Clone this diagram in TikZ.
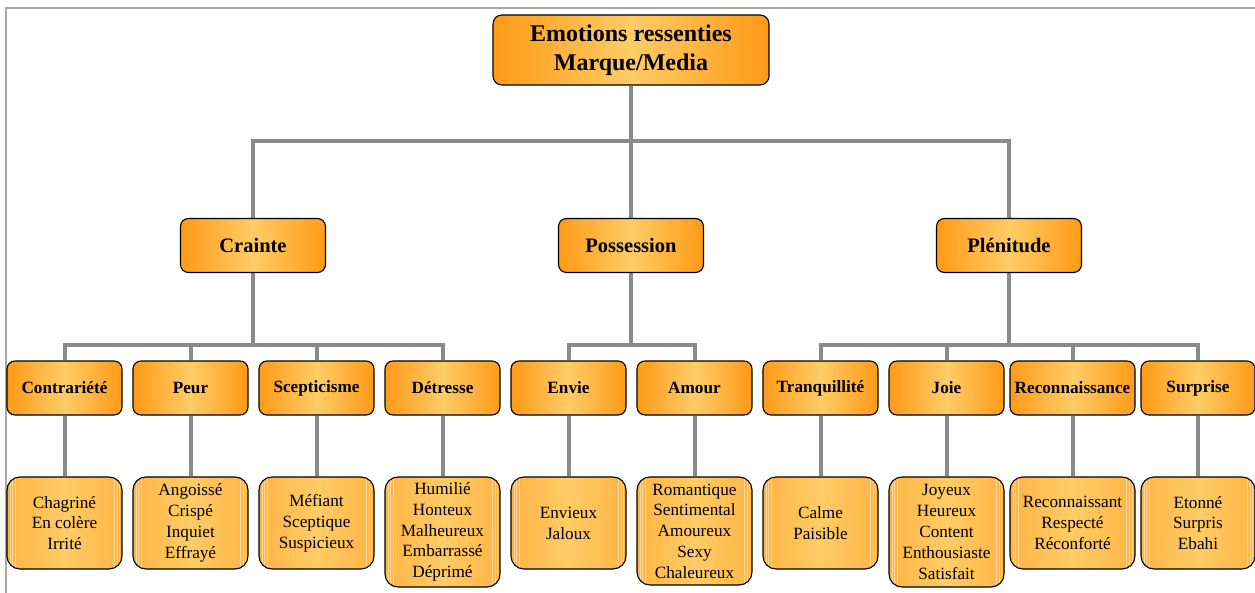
\documentclass[tikz,border=0pt]{standalone}
\usepackage{fontspec}
\setmainfont{Liberation Serif}
\usetikzlibrary{backgrounds,calc}
\definecolor{edgeor}{HTML}{FF9A18}
\definecolor{midor}{HTML}{FFCC66}
\definecolor{edgelt}{HTML}{FFB445}
\definecolor{conngray}{HTML}{8A8A8A}
\definecolor{framegray}{HTML}{A8A8A8}
\tikzset{
  basebox/.style={draw=black, line width=1.1pt, align=center, inner sep=0pt, text=black},
  topbox/.style={basebox, rounded corners=9pt, left color=edgeor, right color=edgeor, middle color=midor,
    font=\bfseries\fontsize{24}{29.5}\selectfont, minimum width=276pt, minimum height=70pt},
  catbox/.style={basebox, rounded corners=8pt, left color=edgeor, right color=edgeor, middle color=midor,
    font=\bfseries\fontsize{20.5}{24}\selectfont, minimum width=145pt, minimum height=54pt},
  subbox/.style={basebox, rounded corners=8pt, left color=edgeor, right color=edgeor, middle color=midor,
    font=\bfseries\fontsize{17.2}{20.6}\selectfont, minimum width=115pt, minimum height=54pt},
  leafbox/.style={basebox, rounded corners=13pt, left color=edgelt, right color=edgelt, middle color=midor,
    font=\fontsize{17.2}{20.8}\selectfont, minimum width=115pt, minimum height=92pt,
    path picture={\foreach \f in {0.025,0.045,0.07,0.93,0.955,0.975}
      \draw[white, opacity=0.45, line width=0.6pt]
        ($(path picture bounding box.north west)!\f!(path picture bounding box.north east)$) --
        ($(path picture bounding box.south west)!\f!(path picture bounding box.south east)$);}},
  tallleaf/.style={leafbox, minimum height=110pt},
  conn/.style={draw=conngray, line width=4pt},
  framel/.style={draw=framegray, line width=1.6pt}
}
\begin{document}
\begin{tikzpicture}[x=1pt,y=-1pt]
\useasboundingbox (0,0) rectangle (1255,593);
% frame
\coordinate (fbl) at (6,593);
\coordinate (ftl) at (6,8);
\coordinate (ftr) at (1255,8);
\draw[framel] (fbl) -- (ftl) -- (ftr);

% level 1
\node[topbox] (top) at (631,50) {Emotions ressenties\\Marque/Media};

% level 2
\node[catbox] (crainte) at (253,245.5) {Crainte};
\node[catbox] (possession) at (631,245.5) {Possession};
\node[catbox] (plenitude) at (1009,245.5) {Plénitude};

% level 3
\node[subbox] (contrariete) at (64.5,388) {Contrariété};
\node[subbox] (peur) at (190.5,388) {Peur};
\node[subbox] (scepticisme) at (316.5,388) {Scepticisme};
\node[subbox] (detresse) at (442.5,388) {Détresse};
\node[subbox] (envie) at (568.5,388) {Envie};
\node[subbox] (amour) at (694.5,388) {Amour};
\node[subbox] (tranquillite) at (820.5,388) {Tranquillité};
\node[subbox] (joie) at (946.5,388) {Joie};
\node[subbox, minimum width=125pt] (reconnaissance) at (1072.5,388) {Reconnaissance};
\node[subbox, minimum width=114pt] (surprise) at (1198,388) {Surprise};

% level 4
\node[leafbox] (l1) at (64.5,523) {Chagriné\\En colère\\Irrité};
\node[leafbox] (l2) at (190.5,523) {Angoissé\\Crispé\\Inquiet\\Effrayé};
\node[leafbox] (l3) at (316.5,523) {Méfiant\\Sceptique\\Suspicieux};
\node[tallleaf] (l4) at (442.5,532) {Humilié\\Honteux\\Malheureux\\Embarrassé\\Déprimé};
\node[leafbox] (l5) at (568.5,523) {Envieux\\Jaloux};
\node[tallleaf, minimum height=108pt] (l6) at (694.5,531) {Romantique\\Sentimental\\Amoureux\\Sexy\\Chaleureux};
\node[leafbox] (l7) at (820.5,523) {Calme\\Paisible};
\node[tallleaf] (l8) at (946.5,532) {Joyeux\\Heureux\\Content\\Enthousiaste\\Satisfait};
\node[leafbox, minimum width=125pt] (l9) at (1072.5,523) {Reconnaissant\\Respecté\\Réconforté};
\node[leafbox, minimum width=114pt] (l10) at (1198,523) {Etonné\\Surpris\\Ebahi};

% junctions
\coordinate (j0) at (631,141);
\coordinate (ja) at (253,345);
\coordinate (jb) at (631,345);
\coordinate (jc) at (1009,345);

\begin{scope}[on background layer]
  \draw[conn] (top.south) -- (possession.north);
  \draw[conn] (crainte.north) |- (j0) -| (plenitude.north);

  \draw[conn] (crainte.south) -- (ja);
  \draw[conn] (contrariete.north) |- (ja) -| (detresse.north);
  \draw[conn] (peur.north) -- (peur.north |- ja);
  \draw[conn] (scepticisme.north) -- (scepticisme.north |- ja);

  \draw[conn] (possession.south) -- (jb);
  \draw[conn] (envie.north) |- (jb) -| (amour.north);

  \draw[conn] (plenitude.south) -- (jc);
  \draw[conn] (tranquillite.north) |- (jc) -| (surprise.north);
  \draw[conn] (joie.north) -- (joie.north |- jc);
  \draw[conn] (reconnaissance.north) -- (reconnaissance.north |- jc);

  \draw[conn] (contrariete.south) -- (l1.north);
  \draw[conn] (peur.south) -- (l2.north);
  \draw[conn] (scepticisme.south) -- (l3.north);
  \draw[conn] (detresse.south) -- (l4.north);
  \draw[conn] (envie.south) -- (l5.north);
  \draw[conn] (amour.south) -- (l6.north);
  \draw[conn] (tranquillite.south) -- (l7.north);
  \draw[conn] (joie.south) -- (l8.north);
  \draw[conn] (reconnaissance.south) -- (l9.north);
  \draw[conn] (surprise.south) -- (l10.north);
\end{scope}
\end{tikzpicture}
\end{document}
